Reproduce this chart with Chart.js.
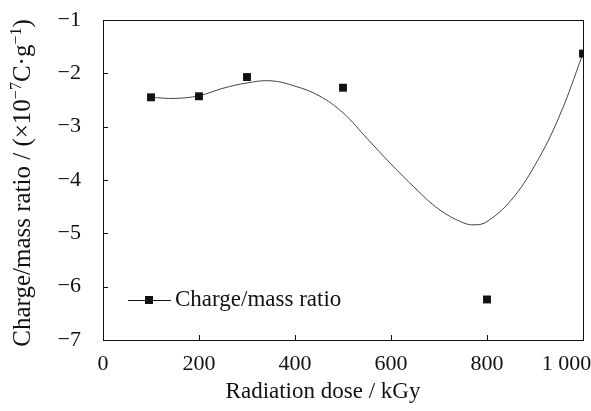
<!DOCTYPE html>
<html>
<head>
<meta charset="utf-8">
<script src="https://cdn.jsdelivr.net/npm/chart.js@4.4.0/dist/chart.umd.min.js"></script>
<style>
  html, body { margin: 0; padding: 0; background: #fff; }
  #wrap { width: 591px; height: 411px; }
</style>
</head>
<body>
<div id="wrap"><canvas id="myChart"></canvas></div>
<script>
// measured points
const doses = [100, 200, 300, 500, 800, 1000]
const ratios = [-2.45, -2.43, -2.07, -2.27, -6.24, -1.63]
// fitted curve
const fitDoses = [100, 150, 200, 250, 300, 350, 400, 450, 500, 550, 600, 650, 700, 750, 775, 800, 850, 900, 950, 1000]
const fitRatios = [-2.45, -2.47, -2.42, -2.28, -2.18, -2.14, -2.24, -2.42, -2.74, -3.22, -3.70, -4.15, -4.55, -4.80, -4.84, -4.78, -4.38, -3.72, -2.82, -1.63]
const xTicks = [0, 200, 400, 600, 800, 1000]
const yTicks = [-1, -2, -3, -4, -5, -6, -7]
const seriesName = 'Charge/mass ratio'
const xTitle = 'Radiation dose / kGy'
// y title pieces: [text, superscript?]
const yTitleParts = [['Charge/mass ratio / (×10', false], ['\u22127', true], ['C·g', false], ['\u22121', true], [')', false]]

const serif = '"Liberation Serif", "Times New Roman", serif'
const ink = '#111'

const frame = {
  id: 'frame',
  afterDraw(chart) {
    const ctx = chart.ctx
    const a = chart.chartArea
    const x = chart.scales.x, y = chart.scales.y
    ctx.save()
    ctx.strokeStyle = ink
    ctx.lineWidth = 1
    ctx.strokeRect(Math.round(a.left) + 0.5, Math.round(a.top) + 0.5, Math.round(a.right - a.left), Math.round(a.bottom - a.top))
    ctx.beginPath()
    xTicks.slice(1, -1).forEach(v => {
      const px = Math.round(x.getPixelForValue(v)) + 0.5
      ctx.moveTo(px, a.bottom)
      ctx.lineTo(px, a.bottom - 5)
    })
    yTicks.slice(1, -1).forEach(v => {
      const py = Math.round(y.getPixelForValue(v)) + 0.5
      ctx.moveTo(a.left, py)
      ctx.lineTo(a.left + 5, py)
    })
    ctx.stroke()

    // legend
    const ly = 300
    ctx.beginPath()
    ctx.moveTo(128, ly + 0.5)
    ctx.lineTo(171, ly + 0.5)
    ctx.stroke()
    ctx.fillStyle = ink
    ctx.fillRect(145, ly - 4, 8, 8)
    ctx.font = '23px ' + serif
    ctx.textAlign = 'left'
    ctx.textBaseline = 'middle'
    ctx.fillText(seriesName, 175, ly)

    // x title
    ctx.textAlign = 'center'
    ctx.fillText(xTitle, 323, 392)

    // y title, with raised exponents
    const big = '25px ' + serif, small = '16px ' + serif
    let total = 0
    yTitleParts.forEach(p => { ctx.font = p[1] ? small : big; total += ctx.measureText(p[0]).width })
    ctx.translate(21, 183)
    ctx.rotate(-Math.PI / 2)
    ctx.textAlign = 'left'
    ctx.textBaseline = 'alphabetic'
    let cx = -total / 2
    yTitleParts.forEach(p => {
      ctx.font = p[1] ? small : big
      ctx.fillText(p[0], cx, p[1] ? 0 : 9)
      cx += ctx.measureText(p[0]).width
    })
    ctx.restore()
  }
}

const ctx = document.getElementById('myChart')
const myChart = new Chart(ctx, {
  type: 'scatter',
  data: {
    datasets: [{
      label: seriesName,
      data: doses.map((d, i) => ({ x: d, y: ratios[i] })),
      showLine: false,
      pointStyle: 'rect',
      pointRadius: 5.6,
      backgroundColor: ink,
      borderColor: ink,
      borderWidth: 0
    }, {
      label: 'fit',
      data: fitDoses.map((d, i) => ({ x: d, y: fitRatios[i] })),
      showLine: true,
      pointRadius: 0,
      borderColor: '#444',
      borderWidth: 1,
      tension: 0.4
    }]
  },
  options: {
    responsive: true,
    maintainAspectRatio: false,
    animation: false,
    devicePixelRatio: 1,
    layout: { padding: { top: 20, right: 8, left: 0, bottom: 0 } },
    plugins: { legend: { display: false }, tooltip: { enabled: false } },
    scales: {
      x: {
        min: 0, max: 1000,
        grid: { display: false },
        border: { display: false },
        afterBuildTicks: s => { s.ticks = xTicks.map(v => ({ value: v })) },
        afterFit: s => { s.height = 71; s.paddingLeft = 0; s.paddingRight = 0 },
        ticks: {
          color: ink,
          font: { family: serif, size: 22 },
          padding: 3,
          maxRotation: 0,
          callback: v => v === 1000 ? '1 000\u2007\u2007\u2007' : String(v)
        }
      },
      y: {
        min: -7, max: -1,
        grid: { display: false, drawTicks: false },
        border: { display: false },
        afterBuildTicks: s => { s.ticks = yTicks.map(v => ({ value: v })) },
        afterFit: s => { s.width = 103; s.paddingTop = 0; s.paddingBottom = 0 },
        ticks: {
          color: ink,
          font: { family: serif, size: 22 },
          padding: 22,
          callback: v => '\u2212' + Math.abs(v)
        }
      }
    }
  },
  plugins: [frame]
})
</script>
</body>
</html>
